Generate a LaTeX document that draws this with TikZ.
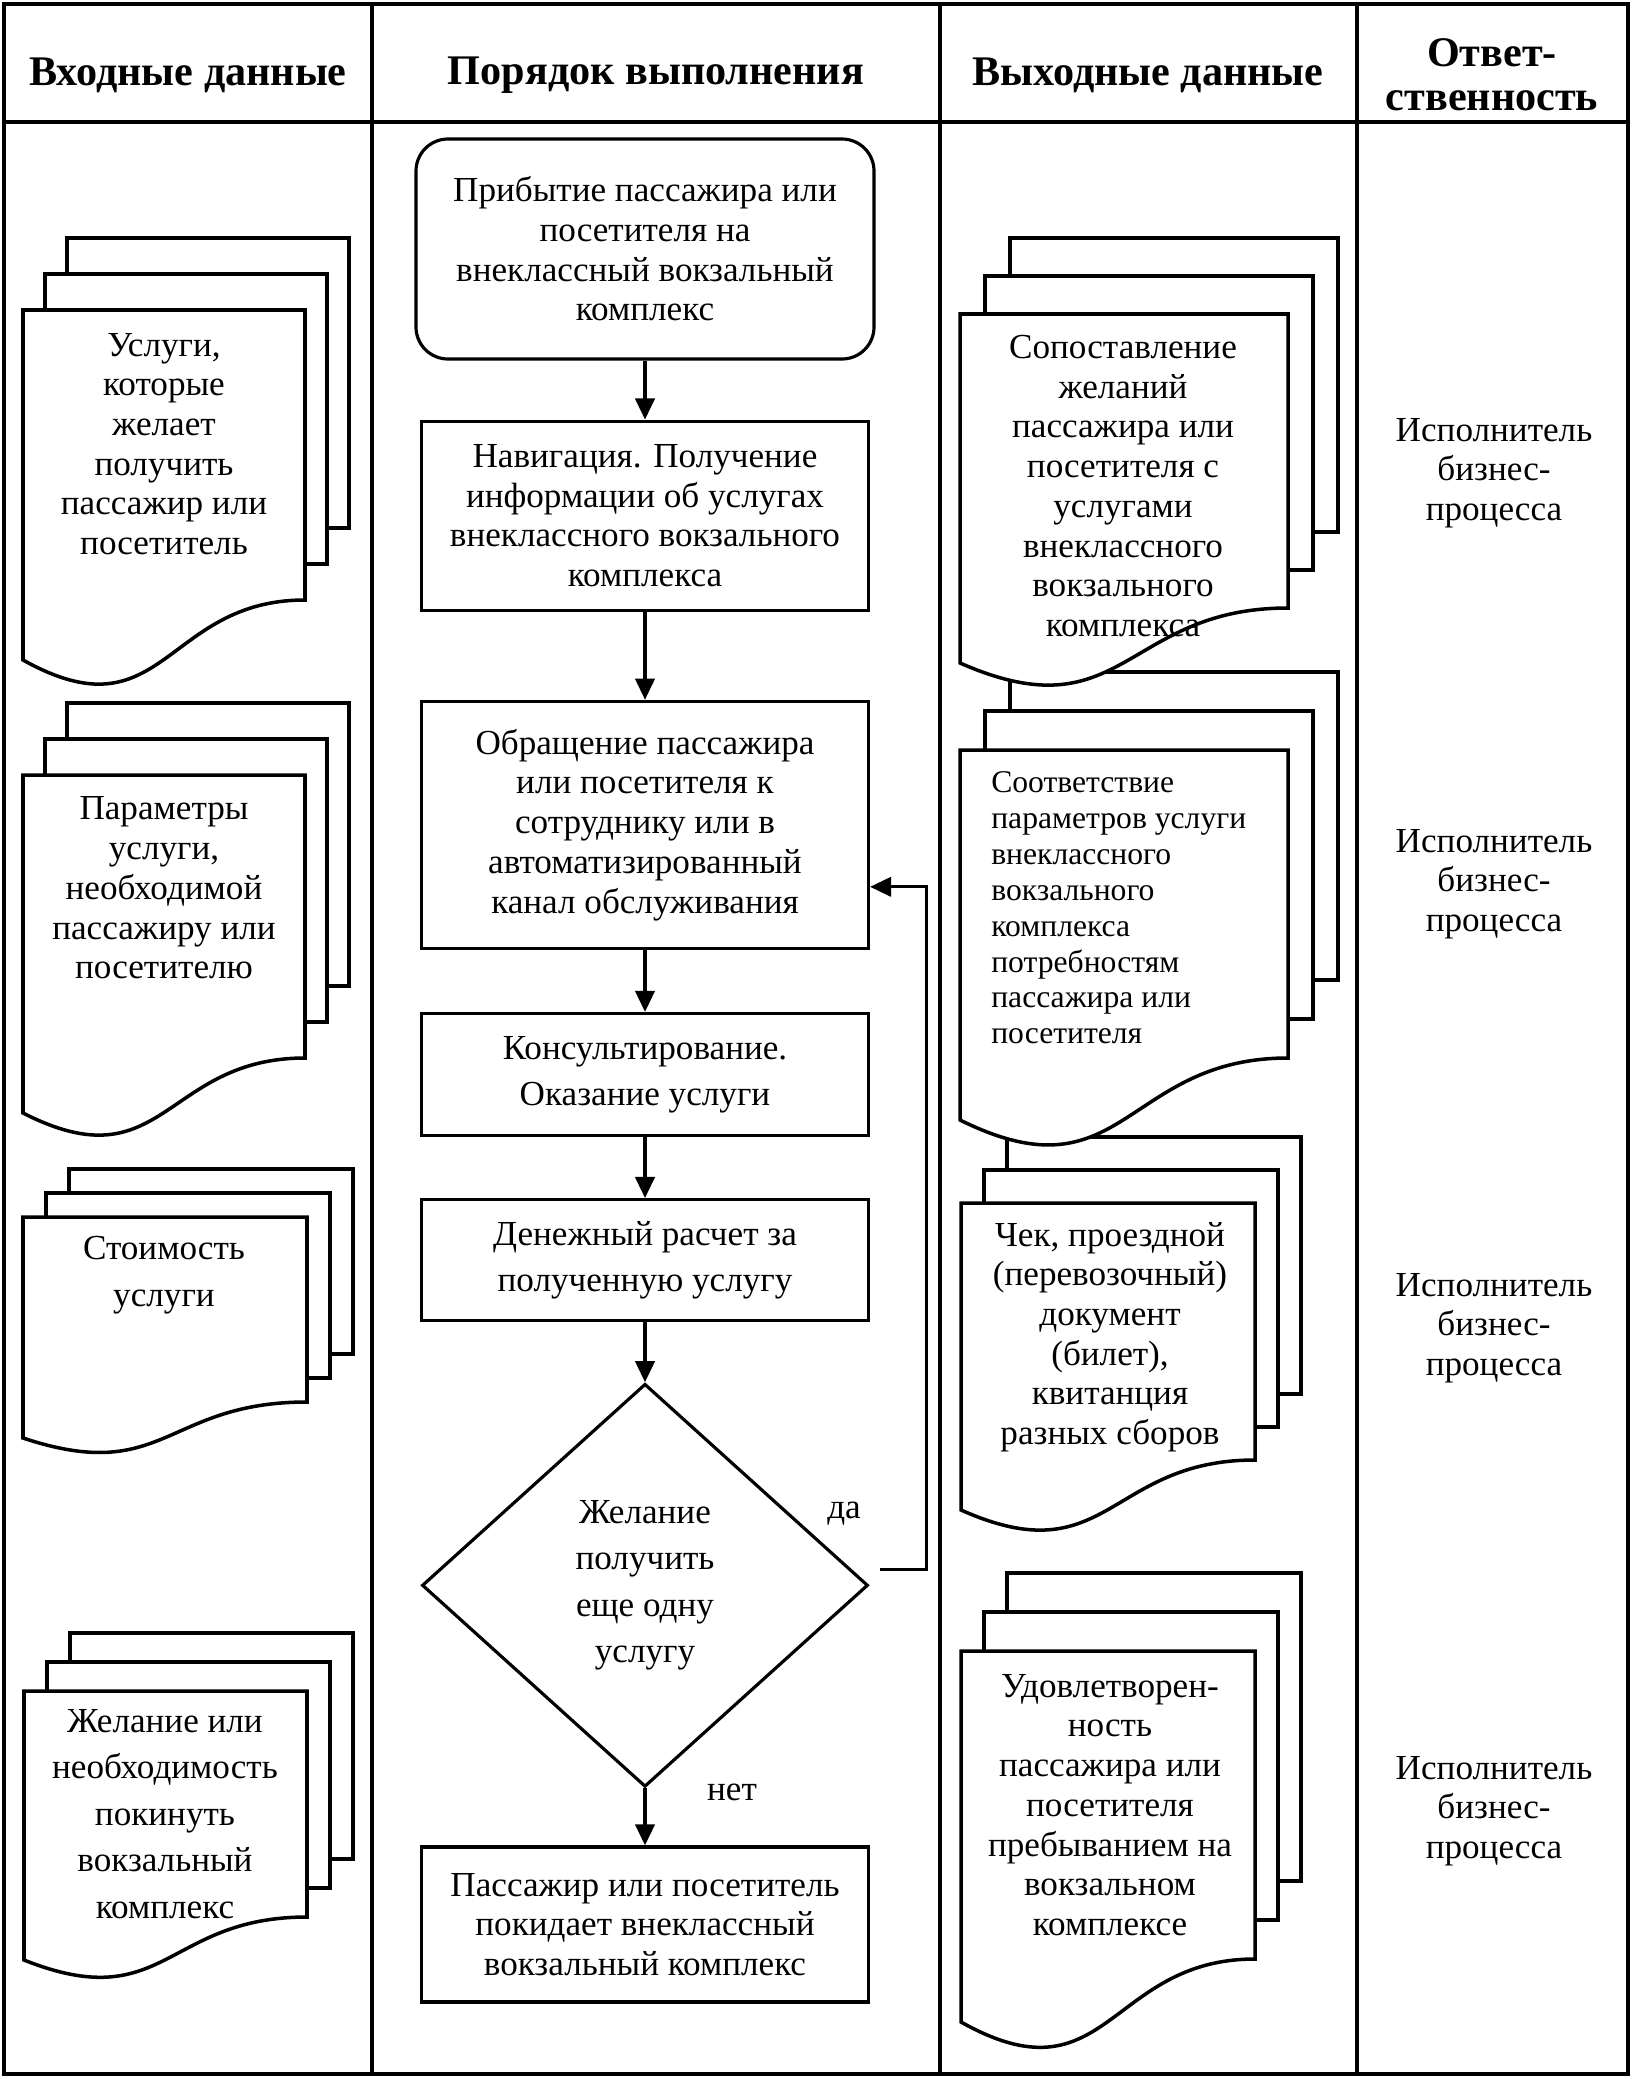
\documentclass[tikz,border=0pt]{standalone}
\usepackage{fontspec}
\setmainfont{Liberation Serif}
\usetikzlibrary{positioning, arrows.meta, shapes.geometric}

% stack of three pages: left, top, right, right end of wave, left end of wave, dx, dy
\newcommand{\docstack}[7]{%
  \draw[page] ({#1+2*#6},{#2-2*#7}) rectangle ({#3+2*#6},{#4-2*#7});
  \draw[page] ({#1+#6},{#2-#7}) rectangle ({#3+#6},{#4-#7});
  \draw[page] (#1,#2) -- (#3,#2) -- (#3,#4)
    .. controls ({(#1+#3)/2},#4) and ({(#1+#3)/2},{#5+1.31*(#5-#4)}) .. (#1,#5) -- cycle;
}

\begin{document}
\begin{tikzpicture}[x=0.1mm, y=-0.1mm, >={Triangle[length=6pt,width=5.5pt]},
                    line width=0.9pt, node distance=0.63cm,
                    page/.style={draw, fill=white, line width=1pt},
                    proc/.style={draw, minimum width=4.47cm, align=center, font=\fontsize{10}{11.3}\selectfont},
                    txt/.style={align=center, font=\fontsize{10}{11.3}\selectfont},
                    wide/.style={font=\fontsize{10}{13.2}\selectfont},
                    head/.style={align=center, font=\fontsize{12}{12.6}\selectfont\bfseries}]

    \useasboundingbox (0,0) rectangle (1633,2079);

    % table
    \draw (4,4) rectangle (1628,2074);
    \draw[line width=1.2pt] (4,122) -- (1628,122);
    \foreach \xx in {372,940,1357}
        \draw (\xx,4) -- (\xx,2074);

    \node[head] (hin) at (188,75) {Входные данные};
    \node[head] (hproc) at (656,75) {Порядок выполнения};
    \node[head] (hout) at (1148,75) {Выходные данные};
    \node[head] (hresp) at (1492,75) {Ответ-\\ственность};

    % order of actions
    \node[proc, rounded corners=0.32cm, minimum width=4.58cm, minimum height=2.2cm] (b1) at (645,249)
        {Прибытие пассажира или\\посетителя на\\внеклассный вокзальный\\комплекс};
    \node[proc, minimum height=1.89cm, below=0.59cm of b1] (b2)
        {Навигация. Получение\\информации об услугах\\внеклассного вокзального\\комплекса};
    \node[proc, minimum height=2.47cm, below=0.88cm of b2] (b3)
        {Обращение пассажира\\или посетителя к\\сотруднику или в\\автоматизированный\\канал обслуживания};
    \node[proc, wide, minimum height=1.22cm, below=0.62cm of b3] (b4)
        {Консультирование.\\Оказание услуги};
    \node[proc, wide, minimum height=1.21cm, below=0.61cm of b4] (b5)
        {Денежный расчет за\\полученную услугу};
    \node[proc, wide, diamond, minimum width=4.46cm, minimum height=4.03cm, inner sep=0pt,
          below=0.6cm of b5] (dec) {Желание\\получить\\еще одну\\услугу};
    \node[proc, minimum height=1.55cm, below=0.57cm of dec] (b6)
        {Пассажир или посетитель\\покидает внеклассный\\вокзальный комплекс};

    \draw[->] (b1) -- (b2);
    \draw[->] (b2) -- (b3);
    \draw[->] (b3) -- (b4);
    \draw[->] (b4) -- (b5);
    \draw[->] (b5) -- (dec);
    \draw[->] (dec) -- (b6);
    \draw[->] ([xshift=0.1cm,yshift=0.16cm]dec.east) -- ++(47,0) |- ([yshift=-0.62cm]b3.east);

    \node[txt] (yes) at (844,1514) {да};
    \node[txt] (no) at (732,1792) {нет};

    % input data
    \docstack{24}{1691}{307}{1917}{1960}{23}{29}
    \docstack{23}{1217}{307}{1402}{1438}{23}{24}
    \docstack{23}{775}{305}{1058}{1113}{22}{36}
    \docstack{23}{310}{305}{600}{660}{22}{36}

    \node[txt] (in1) at (164,444) {Услуги,\\которые\\желает\\получить\\пассажир или\\посетитель};
    \node[txt] (in2) at (164,888) {Параметры\\услуги,\\необходимой\\пассажиру или\\посетителю};
    \node[txt, wide] (in3) at (164,1275) {Стоимость\\услуги};
    \node[txt, wide] (in4) at (165,1814) {Желание или\\необходимость\\покинуть\\вокзальный\\комплекс};

    % output data
    \docstack{961}{1651}{1255}{1959}{2022}{23}{39}
    \docstack{961}{1203}{1255}{1460}{1510}{23}{33}
    \docstack{960}{750}{1288}{1058}{1120}{25}{39}
    \docstack{960}{314}{1288}{608}{663}{25}{38}

    \node[txt] (out1) at (1123,486) {Сопоставление\\желаний\\пассажира или\\посетителя с\\услугами\\внеклассного\\вокзального\\комплекса};
    \node[txt, align=left, font=\fontsize{9}{10.2}\selectfont, anchor=west] (out2) at (978,908)
        {Соответствие\\параметров услуги\\внеклассного\\вокзального\\комплекса\\потребностям\\пассажира или\\посетителя};
    \node[txt] (out3) at (1110,1337) {Чек, проездной\\(перевозочный)\\документ\\(билет),\\квитанция\\разных сборов};
    \node[txt] (out4) at (1110,1805) {Удовлетворен-\\ность\\пассажира или\\посетителя\\пребыванием на\\вокзальном\\комплексе};

    % responsibility
    \foreach \yy/\nm in {473/r1, 884/r2, 1328/r3, 1811/r4}
        \node[txt] (\nm) at (1494,\yy) {Исполнитель\\бизнес-\\процесса};
\end{tikzpicture}
\end{document}
